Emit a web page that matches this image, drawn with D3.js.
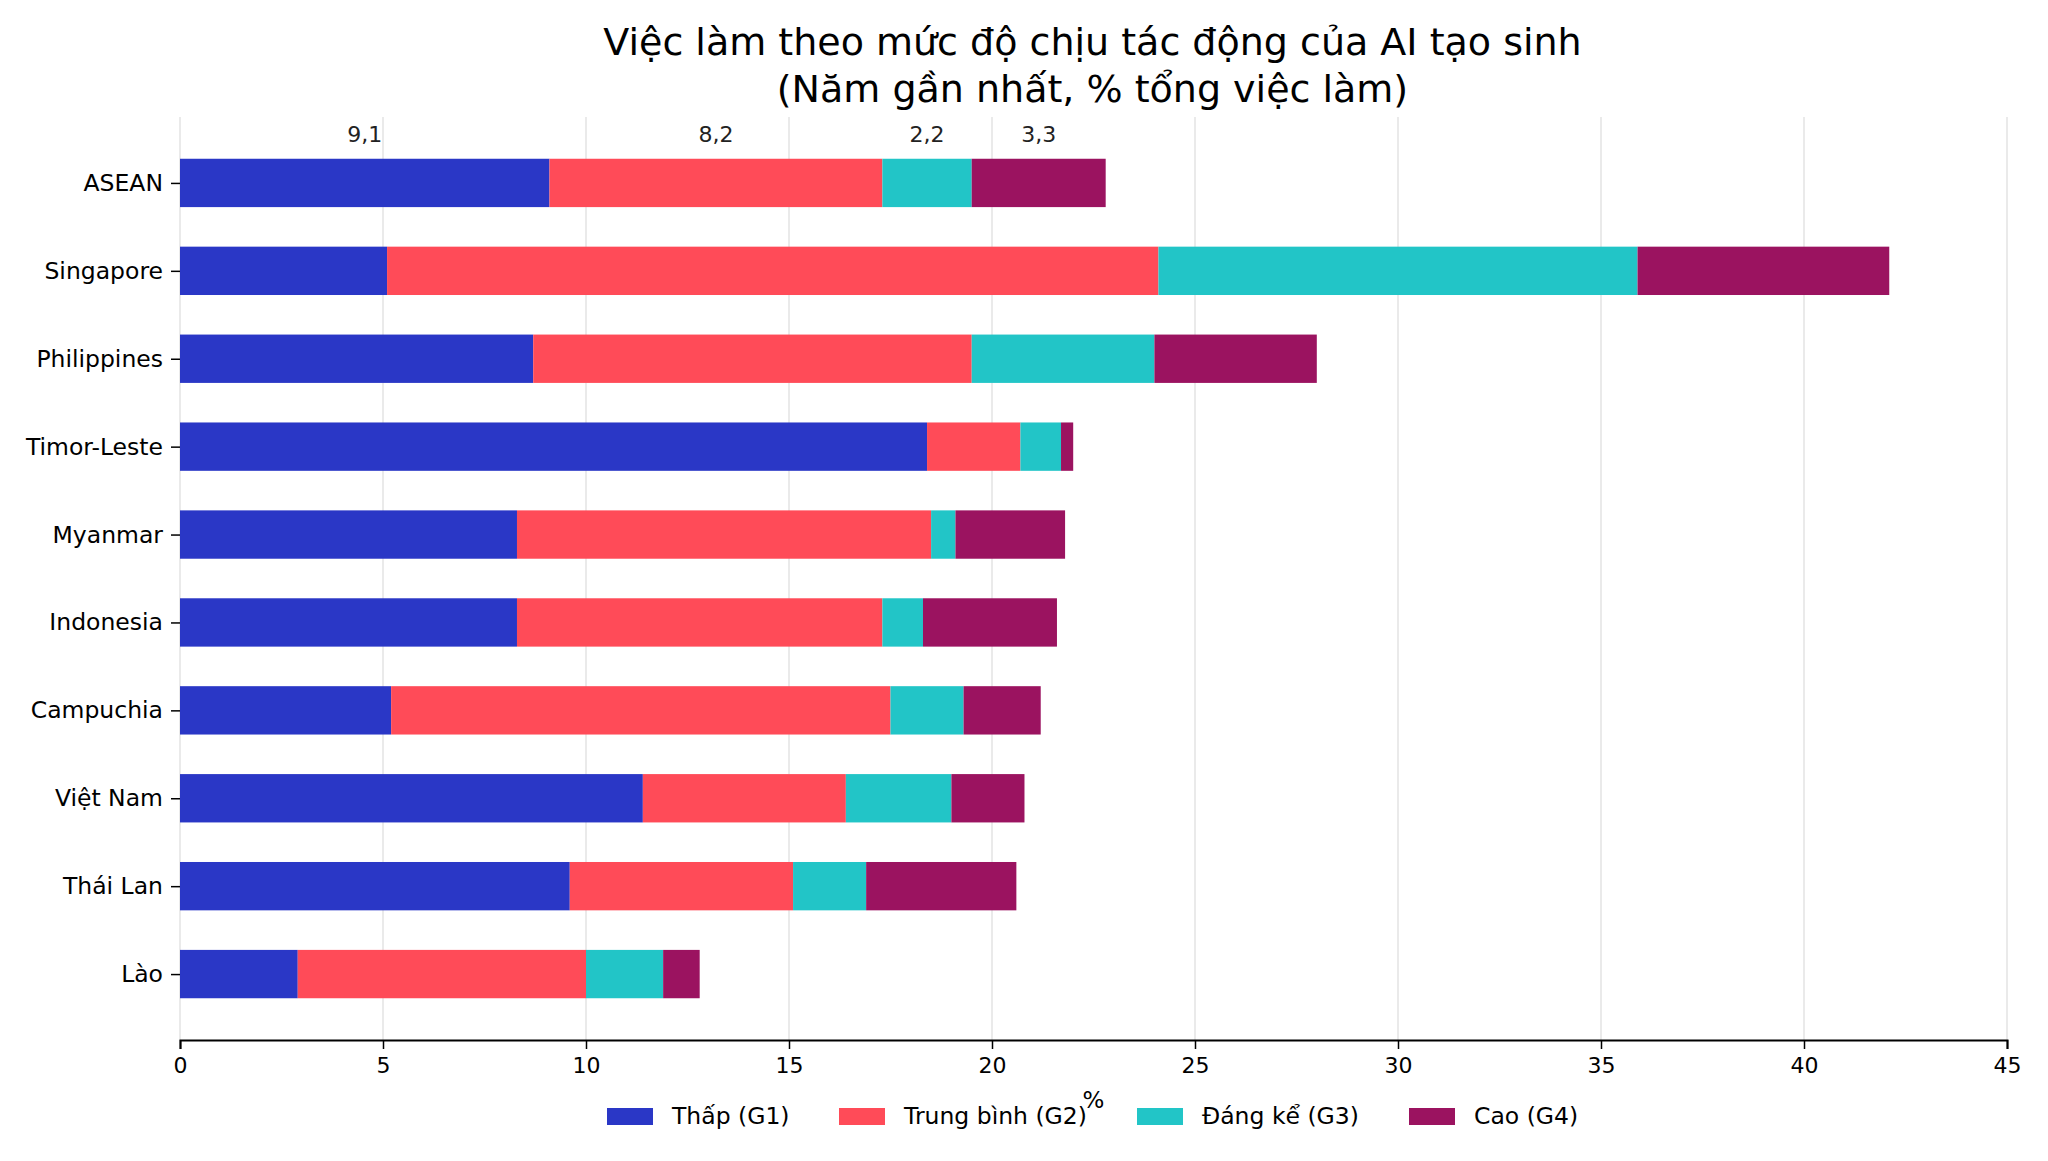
<!DOCTYPE html>
<html>
<head>
<meta charset="utf-8">
<script src="https://cdn.jsdelivr.net/npm/d3@7"></script>
<style>
  body { margin: 0; background: #fff; }
  svg { font-family: "DejaVu Sans", sans-serif; }
</style>
</head>
<body>
<div class="chart"></div>
<script>
const countries = ['ASEAN', 'Singapore', 'Philippines', 'Timor-Leste', 'Myanmar',
  'Indonesia', 'Campuchia', 'Việt Nam', 'Thái Lan', 'Lào'];
const seriesNames = ['Thấp (G1)', 'Trung bình (G2)', 'Đáng kể (G3)', 'Cao (G4)'];
const g1 = [9.1, 5.1, 8.7, 18.4, 8.3, 8.3, 5.2, 11.4, 9.6, 2.9];
const g2 = [8.2, 19.0, 10.8, 2.3, 10.2, 9.0, 12.3, 5.0, 5.5, 7.1];
const g3 = [2.2, 11.8, 4.5, 1.0, 0.6, 1.0, 1.8, 2.6, 1.8, 1.9];
const g4 = [3.3, 6.2, 4.0, 0.3, 2.7, 3.3, 1.9, 1.8, 3.7, 0.9];
const xTicks = [0, 5, 10, 15, 20, 25, 30, 35, 40, 45];
const colors = ['#2a37c6', '#ff4b58', '#22c5c7', '#9b1360'];

const width = 2048, height = 1161;
const margin = { top: 117, right: 41, bottom: 121, left: 180 };

const svg = d3.select('.chart').append('svg')
  .attr('width', width)
  .attr('height', height);

const rows = countries.map((c, i) => ({ country: c, values: [g1[i], g2[i], g3[i], g4[i]] }));
const keys = [0, 1, 2, 3];
const stacked = d3.stack().keys(keys).value((d, k) => d.values[k])(rows);

const x = d3.scaleLinear().domain([0, 45]).range([margin.left, width - margin.right]);
// index scale, half-band padding like matplotlib's margins
const y = d3.scaleLinear().domain([-0.75, countries.length - 0.25])
  .range([margin.top, height - margin.bottom]);
const barH = (y(1) - y(0)) * 0.55;

// grid
svg.append('g')
  .selectAll('line')
  .data(xTicks)
  .join('line')
  .attr('x1', d => x(d)).attr('x2', d => x(d))
  .attr('y1', margin.top).attr('y2', height - margin.bottom)
  .attr('stroke', '#e3e3e3')
  .attr('stroke-width', 1.5);

// bars
svg.append('g')
  .selectAll('g')
  .data(stacked)
  .join('g')
  .attr('fill', (d, i) => colors[i])
  .selectAll('rect')
  .data(d => d)
  .join('rect')
  .attr('x', d => x(d[0]))
  .attr('width', d => x(d[1]) - x(d[0]))
  .attr('y', (d, i) => y(i) - barH / 2)
  .attr('height', barH);

// labels above ASEAN
svg.append('g')
  .selectAll('text')
  .data(stacked.map(s => s[0]))
  .join('text')
  .attr('x', d => x((d[0] + d[1]) / 2))
  .attr('y', y(0) - barH / 2 - 17)
  .attr('text-anchor', 'middle')
  .attr('font-size', 22)
  .attr('fill', '#222')
  .text(d => (d[1] - d[0]).toFixed(1).replace('.', ','));

// x axis
const xAxis = svg.append('g')
  .attr('transform', 'translate(0,' + (height - margin.bottom) + ')')
  .call(d3.axisBottom(x).tickValues(xTicks).tickSize(9).tickPadding(8).tickFormat(d3.format('d')));
xAxis.select('.domain').attr('stroke', '#000').attr('stroke-width', 2);
xAxis.selectAll('.tick line').attr('stroke-width', 1.5);
xAxis.selectAll('text').attr('font-size', 22).attr('fill', '#000').attr('font-family', 'DejaVu Sans');

// y axis
const yAxis = svg.append('g')
  .attr('transform', 'translate(' + margin.left + ',0)')
  .call(d3.axisLeft(y).tickValues(d3.range(countries.length)).tickSize(9).tickPadding(8)
    .tickFormat(i => countries[i]));
yAxis.select('.domain').remove();
yAxis.selectAll('.tick line').attr('stroke-width', 1.5);
yAxis.selectAll('text').attr('font-size', 23.5).attr('fill', '#000').attr('font-family', 'DejaVu Sans');

// x label
svg.append('text')
  .attr('x', x(22.5)).attr('y', 1108)
  .attr('text-anchor', 'middle')
  .attr('font-size', 23)
  .text('%');

// title
const title = svg.append('text')
  .attr('x', x(22.5) - 1)
  .attr('text-anchor', 'middle')
  .attr('font-size', 38);
title.append('tspan').attr('x', x(22.5) - 1).attr('y', 55).text('Việc làm theo mức độ chịu tác động của AI tạo sinh');
title.append('tspan').attr('x', x(22.5) - 1).attr('y', 102).text('(Năm gần nhất, % tổng việc làm)');

// legend
const legendX = [607, 839, 1137, 1409];
const leg = svg.append('g')
  .selectAll('g')
  .data(seriesNames)
  .join('g')
  .attr('transform', (d, i) => 'translate(' + legendX[i] + ',1116)');
leg.append('rect')
  .attr('x', 0).attr('y', -8)
  .attr('width', 46).attr('height', 17)
  .attr('fill', (d, i) => colors[i]);
leg.append('text')
  .attr('x', 65).attr('y', 8)
  .attr('font-size', 23.5)
  .text(d => d);
</script>
</body>
</html>
